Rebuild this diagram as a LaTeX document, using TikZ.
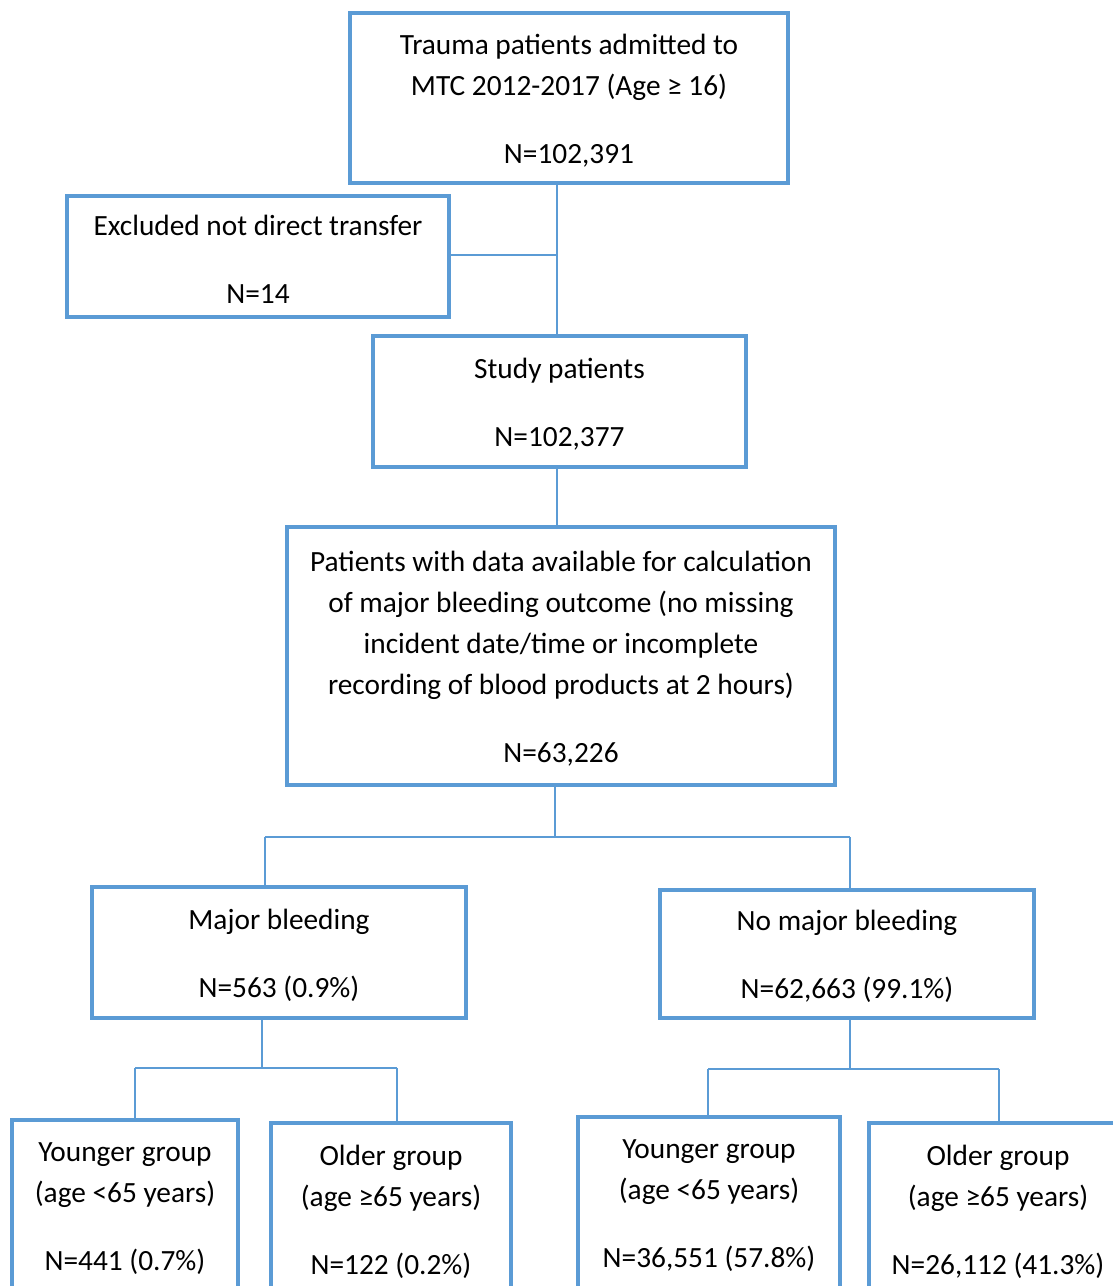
\documentclass[tikz,border=0pt]{standalone}
\usepackage{fontspec}
\setmainfont{Carlito}
\definecolor{boxblue}{RGB}{91,155,213}
\newcommand{\toppad}{\rule{0pt}{19.5pt}}
\begin{document}
\begin{tikzpicture}[x=0.75pt,y=-0.75pt,
  box/.style={draw=boxblue, line width=2.5pt, align=center, inner sep=0pt,
    font=\fontsize{22}{30.75}\selectfont, text=black},
  conn/.style={draw=boxblue, line width=1pt}]
\useasboundingbox (0,0) rectangle (1113,1286);
\clip (0,0) rectangle (1113,1286);
\fill[white] (0,0) rectangle (1113,1286);
% boxes
\node[box, minimum width=328.5pt, minimum height=127.5pt] (top) at (569,98)
  {\toppad Trauma patients admitted to\\MTC 2012-2017 (Age ≥ 16)\\[20.25pt]N=102,391};
\node[box, minimum width=286.5pt, minimum height=90.75pt] (excl) at (258,256.5)
  {\toppad Excluded not direct transfer\\[20.25pt]N=14};
\node[box, minimum width=279.75pt, minimum height=98.25pt] (study) at (559.5,401.5)
  {\toppad Study patients\\[20.25pt]N=102,377};
\node[box, minimum width=411pt, minimum height=193.5pt] (pat) at (561,656)
  {\toppad Patients with data available for calculation\\of major bleeding outcome (no missing\\incident date/time or incomplete\\recording of blood products at 2 hours)\\[20.25pt]N=63,226};
\node[box, minimum width=280.5pt, minimum height=98.25pt] (major) at (279,952.5)
  {\toppad Major bleeding\\[20.25pt]N=563 (0.9\%)};
\node[box, minimum width=280.5pt, minimum height=96pt] (nomajor) at (847,954)
  {\toppad No major bleeding\\[20.25pt]N=62,663 (99.1\%)};
\node[box, minimum width=169.5pt, minimum height=127.5pt] (yl) at (125,1205)
  {\toppad Younger group\\(age <65 years)\\[20.25pt]N=441 (0.7\%)};
\node[box, minimum width=180pt, minimum height=129pt] (ol) at (391,1209)
  {\toppad Older group\\(age ≥65 years)\\[20.25pt]N=122 (0.2\%)};
\node[box, minimum width=196.5pt, minimum height=128.25pt] (yr) at (709,1202.5)
  {\toppad Younger group\\(age <65 years)\\[20.25pt]N=36,551 (57.8\%)};
\node[box, minimum width=193.5pt, minimum height=129pt] (or) at (998,1209)
  {\toppad Older group\\(age ≥65 years)\\[20.25pt]N=26,112 (41.3\%)};
% junction coordinates
\coordinate (j1) at (557,255);
\coordinate (j2) at (555,837);
\coordinate (ml) at (265,837);
\coordinate (mr) at (850,837);
\coordinate (j3) at (262,1068);
\coordinate (al) at (135,1068);
\coordinate (ar) at (397,1068);
\coordinate (j4) at (850,1069);
\coordinate (bl) at (708,1069);
\coordinate (br) at (999,1069);
% connectors
\draw[conn] (top.south -| j1) -- (study.north -| j1);
\draw[conn] (excl.east |- j1) -- (j1);
\draw[conn] (study.south -| j1) -- (pat.north -| j1);
\draw[conn] (pat.south -| j2) -- (j2);
\draw[conn] (ml) -- (mr);
\draw[conn] (ml) -- (major.north -| ml);
\draw[conn] (mr) -- (nomajor.north -| mr);
\draw[conn] (major.south -| j3) -- (j3);
\draw[conn] (al) -- (ar);
\draw[conn] (al) -- (yl.north -| al);
\draw[conn] (ar) -- (ol.north -| ar);
\draw[conn] (nomajor.south -| j4) -- (j4);
\draw[conn] (bl) -- (br);
\draw[conn] (bl) -- (yr.north -| bl);
\draw[conn] (br) -- (or.north -| br);
\end{tikzpicture}
\end{document}
